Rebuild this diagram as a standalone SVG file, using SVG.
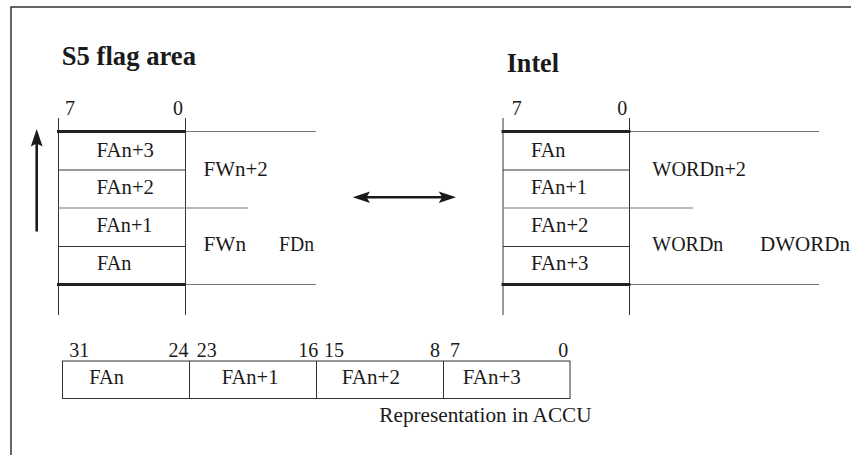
<svg xmlns="http://www.w3.org/2000/svg" width="851" height="455" viewBox="0 0 851 455">
<style>
text{font-family:'Liberation Serif','DejaVu Serif',serif;font-size:20px;fill:#1a1a1a}
.t{font-weight:bold;font-size:26.5px}
.e{text-anchor:end}
.frame{stroke:#333;stroke-width:1.5;fill:none}
.v{stroke:#333;stroke-width:1;fill:none}
.thick{stroke:#222;stroke-width:3.2;fill:none}
.row{stroke:#333;stroke-width:1;fill:none}
.ext{stroke:#777;stroke-width:1.2;fill:none}
.ar{stroke:#1a1a1a;stroke-width:2.6;fill:none}
.ah{fill:#1a1a1a;stroke:none}
</style>
<rect width="851" height="455" fill="#fff"/>
<g id="frame">
<path class="frame" d="M11,455 V7 H851"/>
</g>
<g font-family="Liberation Serif, DejaVu Serif, serif">
<g id="s5-title"><text class="t" x="61.7" y="65" textLength="134.3" lengthAdjust="spacingAndGlyphs">S5 flag area</text></g>
<g id="intel-title"><text class="t" x="506.7" y="71.7" textLength="52.3" lengthAdjust="spacingAndGlyphs">Intel</text></g>
<g id="s5-block">
<path class="v" d="M58.5,118 V315 M185.5,118 V315"/>
<path class="row" d="M58.5,170 H185.5 M58.5,246.5 H185.5"/>
<path class="ext" d="M185.5,131.5 H316 M185.5,284.5 H316 M58.5,208 H248"/>
<path class="thick" d="M57,131.5 H186 M57,284.5 H186"/>
<text x="65" y="115">7</text>
<text class="e" x="183" y="115">0</text>
<text x="96.5" y="156.7" textLength="57.5" lengthAdjust="spacingAndGlyphs">FAn+3</text>
<text x="96.5" y="194.3" textLength="57.5" lengthAdjust="spacingAndGlyphs">FAn+2</text>
<text x="96.5" y="232.3" textLength="56" lengthAdjust="spacingAndGlyphs">FAn+1</text>
<text x="97" y="270" textLength="34.5" lengthAdjust="spacingAndGlyphs">FAn</text>
<text x="203.5" y="175.5" textLength="64.3" lengthAdjust="spacingAndGlyphs">FWn+2</text>
<text x="203.5" y="250.5" textLength="42.5" lengthAdjust="spacingAndGlyphs">FWn</text>
<text x="279" y="250.5" textLength="35" lengthAdjust="spacingAndGlyphs">FDn</text>
</g>
<g id="intel-block">
<path class="v" d="M503,118 V315 M629.5,118 V315"/>
<path class="row" d="M503,170 H629.5 M503,246.5 H629.5"/>
<path class="ext" d="M629.5,131.5 H819 M629.5,284.5 H819 M503,208 H693"/>
<path class="thick" d="M501.5,131.5 H630.5 M501.5,284.5 H630.5"/>
<text x="511.7" y="115">7</text>
<text class="e" x="627.3" y="115">0</text>
<text x="531" y="156.7" textLength="34.5" lengthAdjust="spacingAndGlyphs">FAn</text>
<text x="531" y="194.3" textLength="56" lengthAdjust="spacingAndGlyphs">FAn+1</text>
<text x="531" y="232.3" textLength="57.5" lengthAdjust="spacingAndGlyphs">FAn+2</text>
<text x="531" y="270" textLength="57.5" lengthAdjust="spacingAndGlyphs">FAn+3</text>
<text x="652.3" y="175.5" textLength="93.7" lengthAdjust="spacingAndGlyphs">WORDn+2</text>
<text x="652.3" y="250.5" textLength="71" lengthAdjust="spacingAndGlyphs">WORDn</text>
<text x="760" y="250.5" textLength="90" lengthAdjust="spacingAndGlyphs">DWORDn</text>
</g>
<g id="accu">
<rect class="v" x="62.5" y="361" width="507.5" height="37.5"/>
<path class="v" d="M189.5,361 V398.5 M316.5,361 V398.5 M443.5,361 V398.5"/>
<text x="69.3" y="357.3">31</text>
<text class="e" x="188.5" y="357.3">24</text>
<text x="196.7" y="357.3">23</text>
<text class="e" x="318.3" y="357.3">16</text>
<text x="324" y="357.3">15</text>
<text class="e" x="440" y="357.3">8</text>
<text x="450" y="357.3">7</text>
<text class="e" x="568.3" y="357.3">0</text>
<text x="89.3" y="384.3" textLength="34.7" lengthAdjust="spacingAndGlyphs">FAn</text>
<text x="221.7" y="384.3" textLength="56.7" lengthAdjust="spacingAndGlyphs">FAn+1</text>
<text x="341.7" y="384.3" textLength="58.3" lengthAdjust="spacingAndGlyphs">FAn+2</text>
<text x="462.7" y="384.3" textLength="58" lengthAdjust="spacingAndGlyphs">FAn+3</text>
<text x="379.3" y="421.7" textLength="212.3" lengthAdjust="spacingAndGlyphs">Representation in ACCU</text>
</g>
</g>
<g id="connectors">
<path class="ar" d="M36.7,231.5 V142"/>
<path class="ah" d="M36.7,129 L42.6,146.5 L36.7,143.5 L30.8,146.5 Z"/>
<path class="ar" d="M366,197.3 H443"/>
<path class="ah" d="M352.7,197.3 L370,191.6 L366.5,197.3 L370,203 Z"/>
<path class="ah" d="M456,197.3 L438.7,191.6 L442.2,197.3 L438.7,203 Z"/>
</g>
</svg>
